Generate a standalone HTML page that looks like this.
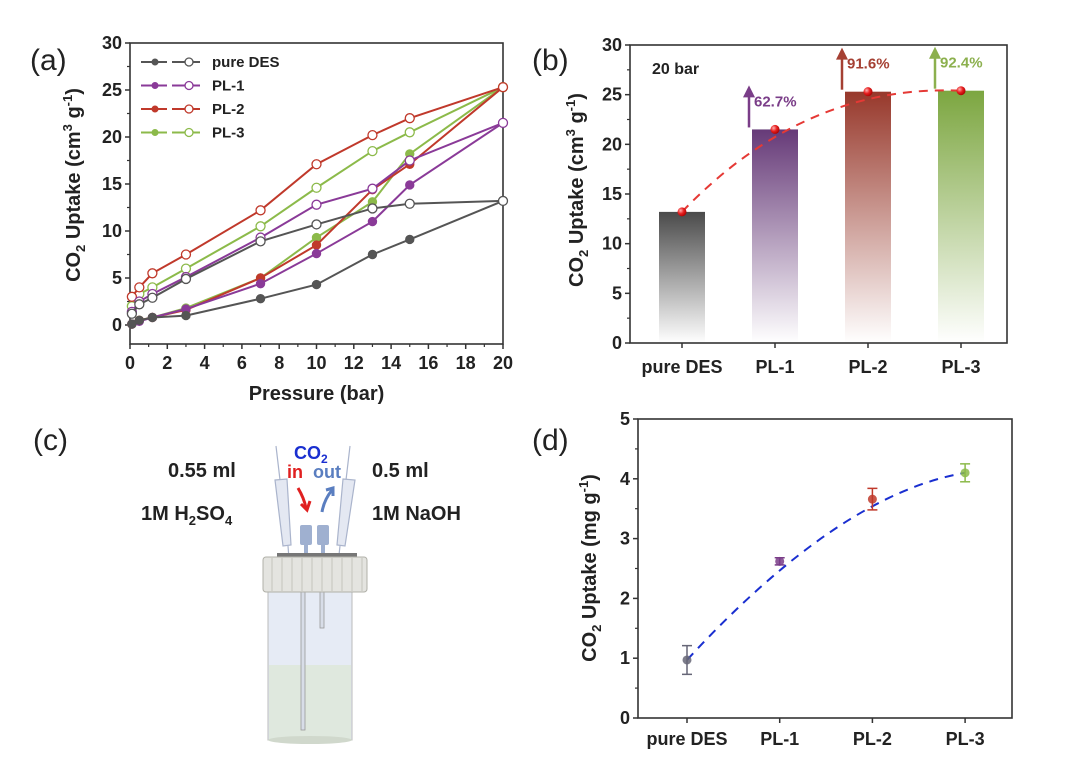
<!DOCTYPE html>
<html><head><meta charset="utf-8">
<style>
html,body{margin:0;padding:0;background:#fff;}
svg{display:block;font-family:"Liberation Sans",Arial,sans-serif;}
.tk{font-size:18px;font-weight:bold;fill:#222;}
.ttl{font-size:20px;font-weight:bold;fill:#222;}
.pl{font-size:30px;fill:#222;}
</style></head>
<body>
<svg id="fig" width="1080" height="763" viewBox="0 0 1080 763">
<defs>
<linearGradient id="g0" x1="0" y1="0" x2="0" y2="1"><stop offset="0" stop-color="#4a4a4a"/><stop offset="1" stop-color="#4a4a4a" stop-opacity="0"/></linearGradient>
<linearGradient id="g1" x1="0" y1="0" x2="0" y2="1"><stop offset="0" stop-color="#663a78"/><stop offset="1" stop-color="#663a78" stop-opacity="0"/></linearGradient>
<linearGradient id="g2" x1="0" y1="0" x2="0" y2="1"><stop offset="0" stop-color="#97382b"/><stop offset="1" stop-color="#97382b" stop-opacity="0"/></linearGradient>
<linearGradient id="g3" x1="0" y1="0" x2="0" y2="1"><stop offset="0" stop-color="#7ca640"/><stop offset="1" stop-color="#7ca640" stop-opacity="0"/></linearGradient>
<radialGradient id="rb" cx="0.35" cy="0.35" r="0.7"><stop offset="0" stop-color="#ffb0b0"/><stop offset="0.5" stop-color="#e82020"/><stop offset="1" stop-color="#a00"/></radialGradient>
</defs>
<text class="pl" x="30" y="70">(a)</text>
<text class="pl" x="532" y="70">(b)</text>
<text class="pl" x="33" y="450">(c)</text>
<text class="pl" x="532" y="450">(d)</text>
<g id="pa"></g>
<g id="pb"></g>
<g id="pd"></g>
<g id="pc">
  <text x="168" y="477" class="ttl">0.55 ml</text>
  <text x="141" y="520" class="ttl">1M H<tspan font-size="13" dy="5">2</tspan><tspan dy="-5">SO</tspan><tspan font-size="13" dy="5">4</tspan></text>
  <text x="372" y="477" class="ttl">0.5 ml</text>
  <text x="372" y="520" class="ttl">1M NaOH</text>
  <text x="294" y="459" font-size="18" font-weight="bold" fill="#1a2fd0">CO<tspan font-size="12" dy="4">2</tspan></text>
  <text x="287" y="478" font-size="18" font-weight="bold" fill="#e02020">in</text>
  <text x="313" y="478" font-size="18" font-weight="bold" fill="#5a7ec0">out</text>
  <path d="M298,488 Q304,498 306,508" stroke="#e02020" stroke-width="3" fill="none"/>
  <path d="M301,504 L307,510 L310,501" stroke="#e02020" stroke-width="3" fill="none"/>
  <path d="M322,512 Q324,500 332,490" stroke="#5a7ec0" stroke-width="3" fill="none"/>
  <path d="M326,490 L333,488 L333,496" stroke="#5a7ec0" stroke-width="3" fill="none"/>
  <g stroke="#aab4cc" fill="#e4e8f2" stroke-width="1.2">
    <line x1="276" y1="446" x2="280" y2="480"/>
    <polygon points="275,480 287,479 291,545 283,546"/>
    <line x1="288" y1="546" x2="291" y2="585"/>
  </g>
  <g stroke="#aab4cc" fill="#e4e8f2" stroke-width="1.2">
    <line x1="350" y1="446" x2="346" y2="480"/>
    <polygon points="343,479 355,480 345,546 337,545"/>
    <line x1="340" y1="546" x2="335" y2="590"/>
  </g>
  <rect x="300" y="525" width="12" height="20" rx="2" fill="#9fb0d0"/>
  <rect x="317" y="525" width="12" height="20" rx="2" fill="#9fb0d0"/>
  <rect x="304" y="545" width="4" height="12" fill="#9fb0d0"/><rect x="321" y="545" width="4" height="12" fill="#9fb0d0"/>
  <rect x="277" y="553" width="80" height="6" fill="#777"/>
  <rect x="268" y="590" width="84" height="150" fill="#e6ebf5" stroke="#bbb"/>
  <rect x="269" y="665" width="82" height="74" fill="#dfe8de"/>
  <ellipse cx="310" cy="740" rx="42" ry="4" fill="#d0d8cc"/>
  <rect x="301" y="590" width="4" height="140" fill="#d8dde8" stroke="#999" stroke-width="0.8"/>
  <rect x="320" y="590" width="4" height="38" fill="#d8dde8" stroke="#999" stroke-width="0.8"/>
  <rect x="263" y="557" width="104" height="35" rx="3" fill="#e4e4e0" stroke="#b0b0a8"/>
  <g stroke="#c4c4bc" stroke-width="1">
    <line x1="272" y1="558" x2="272" y2="591"/><line x1="282" y1="558" x2="282" y2="591"/><line x1="292" y1="558" x2="292" y2="591"/><line x1="302" y1="558" x2="302" y2="591"/><line x1="312" y1="558" x2="312" y2="591"/><line x1="322" y1="558" x2="322" y2="591"/><line x1="332" y1="558" x2="332" y2="591"/><line x1="342" y1="558" x2="342" y2="591"/><line x1="352" y1="558" x2="352" y2="591"/><line x1="362" y1="558" x2="362" y2="591"/>
  </g>
</g>
</svg>
<script>
// ---------- Panel (a) data ----------
const aPressAds = [0.1, 0.5, 1.2, 3, 7, 10, 13, 15, 20];
const aPressDes = [20, 15, 13, 10, 7, 3, 1.2, 0.5, 0.1];
const aNames = ["pure DES", "PL-1", "PL-2", "PL-3"];
const aColors = ["#555555", "#8a3a98", "#c0392b", "#8cba4a"];
const adsDES = [0.1, 0.5, 0.8, 1.0, 2.8, 4.3, 7.5, 9.1, 13.2];
const desDES = [13.2, 12.9, 12.4, 10.7, 8.9, 4.9, 2.9, 2.2, 1.2];
const adsPL1 = [0.1, 0.4, 0.8, 1.7, 4.4, 7.6, 11.0, 14.9, 21.5];
const desPL1 = [21.5, 17.5, 14.5, 12.8, 9.3, 5.1, 3.3, 2.5, 1.4];
const adsPL2 = [0.1, 0.5, 0.8, 1.6, 5.0, 8.5, 14.4, 17.1, 25.3];
const desPL2 = [25.3, 22.0, 20.2, 17.1, 12.2, 7.5, 5.5, 4.0, 3.0];
const adsPL3 = [0.1, 0.5, 0.8, 1.8, 5.0, 9.3, 13.1, 18.2, 25.3];
const desPL3 = [25.3, 20.5, 18.5, 14.6, 10.5, 6.0, 4.0, 3.3, 2.0];
const aXTicks = [0,2,4,6,8,10,12,14,16,18,20];
const aYTicks = [0,5,10,15,20,25,30];
// ---------- Panel (b) data ----------
const bCats = ["pure DES","PL-1","PL-2","PL-3"];
const bValues = [13.2, 21.5, 25.3, 25.4];
const bLabels = ["", "62.7%", "91.6%", "92.4%"];
const bYTicks = [0,5,10,15,20,25,30];
// ---------- Panel (d) data ----------
const dCats = ["pure DES","PL-1","PL-2","PL-3"];
const dValues = [0.97, 2.62, 3.66, 4.10];
const dErrors = [0.24, 0.06, 0.18, 0.15];
const dYTicks = [0,1,2,3,4,5];

const NS = "http://www.w3.org/2000/svg";
function mk(parent, tag, attrs, text){
  const e = document.createElementNS(NS, tag);
  for (const k in attrs) e.setAttribute(k, attrs[k]);
  if (text !== undefined) e.textContent = text;
  parent.appendChild(e);
  return e;
}
function yTitle(g, x, y, unitHTML){
  const t = mk(g, "text", {x:x, y:y, class:"ttl", transform:"rotate(-90 "+x+" "+y+")", "text-anchor":"middle"});
  
  
  t.innerHTML = unitHTML;
}

// ================= Panel A =================
(function(){
  const g = document.getElementById("pa");
  const L=130,R=503,T=43,B=344;
  const xS = v => L + (v-0)/(20-0)*(R-L);
  const yS = v => 325 - v*(325-T)/30;
  const box = mk(g,"rect",{x:L,y:T,width:R-L,height:B-T,fill:"none",stroke:"#333","stroke-width":1.6});
  
  
  aXTicks.forEach(v=>{
    mk(g,"line",{x1:xS(v),x2:xS(v),y1:B,y2:B+5,stroke:"#333","stroke-width":1.5});
    if(v<20) mk(g,"line",{x1:xS(v+1),x2:xS(v+1),y1:B,y2:B+3,stroke:"#333","stroke-width":1.2});
    const t = mk(g,"text",{x:xS(v),y:369,class:"tk","text-anchor":"middle"},v);
    
    
  });
  aYTicks.forEach(v=>{
    mk(g,"line",{x1:L-5,x2:L,y1:yS(v),y2:yS(v),stroke:"#333","stroke-width":1.5});
    if(v<30) mk(g,"line",{x1:L-3,x2:L,y1:yS(v+2.5),y2:yS(v+2.5),stroke:"#333","stroke-width":1.2});
    const t = mk(g,"text",{x:L-8,y:yS(v)+6,class:"tk","text-anchor":"end"},v);
    
    
  });
  const xt = mk(g,"text",{x:(L+R)/2,y:400,class:"ttl","text-anchor":"middle"},"Pressure (bar)");
  
  
  yTitle(g, 80, 185, 'CO<tspan font-size="13" dy="5">2</tspan><tspan dy="-5"> Uptake (cm</tspan><tspan font-size="13" dy="-8">3</tspan><tspan dy="8"> g</tspan><tspan font-size="13" dy="-8">-1</tspan><tspan dy="8">)</tspan>');
  const ads = [adsDES, adsPL1, adsPL2, adsPL3];
  const des = [desDES, desPL1, desPL2, desPL3];
  for(let s=3;s>=0;s--){
    const c = aColors[s];
    const pts1 = aPressAds.map((p,i)=>xS(p)+","+yS(ads[s][i])).join(" ");
    const pts2 = aPressDes.map((p,i)=>xS(p)+","+yS(des[s][i])).join(" ");
    const l1 = mk(g,"polyline",{points:pts1,fill:"none",stroke:c,"stroke-width":2});
    
    
    const l2 = mk(g,"polyline",{points:pts2,fill:"none",stroke:c,"stroke-width":2});
    
    
    aPressAds.forEach((p,i)=>{
      const m = mk(g,"circle",{cx:xS(p),cy:yS(ads[s][i]),r:4.2,fill:c,stroke:c,"stroke-width":1});
      
      
    });
    aPressDes.forEach((p,i)=>{
      const m = mk(g,"circle",{cx:xS(p),cy:yS(des[s][i]),r:4.5,fill:"#fff",stroke:c,"stroke-width":1.3});
      
      
    });
  }
  aNames.forEach((n,i)=>{
    const y = 62 + i*23.5;
    const c = aColors[i];
    const lg = mk(g,"g",{});
    
    
    mk(lg,"line",{x1:141,x2:167,y1:y,y2:y,stroke:c,"stroke-width":2});
    mk(lg,"line",{x1:172,x2:200,y1:y,y2:y,stroke:c,"stroke-width":2});
    mk(lg,"circle",{cx:155,cy:y,r:3.5,fill:c});
    mk(lg,"circle",{cx:189,cy:y,r:4,fill:"#fff",stroke:c,"stroke-width":1.3});
    mk(lg,"text",{x:212,y:y+5,"font-size":15,"font-weight":"bold",fill:"#222"},n);
  });
})();

// ================= Panel B =================
(function(){
  const g = document.getElementById("pb");
  const L=630,R=1007,T=45,B=343;
  const xS = i => 682 + i*93;
  const yS = v => B - v*(B-T)/30;
  bCats.forEach((c,i)=>{
    const r = mk(g,"rect",{x:xS(i)-23,y:yS(bValues[i]),width:46,height:B-yS(bValues[i]),fill:"url(#g"+i+")"});
    
    
  });
  const box = mk(g,"rect",{x:L,y:T,width:R-L,height:B-T,fill:"none",stroke:"#333","stroke-width":1.6});
  
  
  bYTicks.forEach(v=>{
    mk(g,"line",{x1:L-5,x2:L,y1:yS(v),y2:yS(v),stroke:"#333","stroke-width":1.5});
    if(v<30) mk(g,"line",{x1:L-3,x2:L,y1:yS(v+2.5),y2:yS(v+2.5),stroke:"#333","stroke-width":1.2});
    const t = mk(g,"text",{x:L-8,y:yS(v)+6,class:"tk","text-anchor":"end"},v);
    
    
  });
  bCats.forEach((c,i)=>{
    mk(g,"line",{x1:xS(i),x2:xS(i),y1:B,y2:B+5,stroke:"#333","stroke-width":1.5});
    const t = mk(g,"text",{x:xS(i),y:373,class:"tk","text-anchor":"middle"},c);
    
    
  });
  yTitle(g, 583, 190, 'CO<tspan font-size="13" dy="5">2</tspan><tspan dy="-5"> Uptake (cm</tspan><tspan font-size="13" dy="-8">3</tspan><tspan dy="8"> g</tspan><tspan font-size="13" dy="-8">-1</tspan><tspan dy="8">)</tspan>');
  const lbl = mk(g,"text",{x:652,y:74,"font-size":16,"font-weight":"bold",fill:"#222"},"20 bar");
  
  
  // trend dashed
  let d = "";
  bValues.forEach((v,i)=>{ d += (i?" L":"M")+xS(i)+","+yS(v); });
  const tr = mk(g,"path",{d:"M"+xS(0)+","+yS(bValues[0])+" Q"+(xS(1)+30)+","+(yS(bValues[2])-8)+" "+xS(3)+","+yS(bValues[3]),fill:"none",stroke:"#e53935","stroke-width":2,"stroke-dasharray":"9,7"});
  
  
  bValues.forEach((v,i)=>{
    const m = mk(g,"circle",{cx:xS(i),cy:yS(v),r:4.5,fill:"url(#rb)"});
    
    
  });
  const acol = ["", "#7a3d88", "#a54033", "#8cb04e"];
  bLabels.forEach((s,i)=>{
    if(!s) return;
    const top = yS(bValues[i]) - 42;
    const ax = xS(i) - 26;
    const ar = mk(g,"g",{});
    
    
    mk(ar,"line",{x1:ax,x2:ax,y1:yS(bValues[i])-2,y2:top+8,stroke:acol[i],"stroke-width":2.5});
    mk(ar,"polygon",{points:(ax-6)+","+(top+10)+" "+(ax+6)+","+(top+10)+" "+ax+","+(top-2),fill:acol[i]});
    const t = mk(g,"text",{x:ax+5,y:top+19,"font-size":15,"font-weight":"bold",fill:acol[i]},s);
    
    
  });
})();

// ================= Panel D =================
(function(){
  const g = document.getElementById("pd");
  const L=638,R=1012,T=419,B=718;
  const xS = i => 687 + i*92.7;
  const yS = v => B - v*(B-T)/5;
  const box = mk(g,"rect",{x:L,y:T,width:R-L,height:B-T,fill:"none",stroke:"#333","stroke-width":1.6});
  
  
  dYTicks.forEach(v=>{
    mk(g,"line",{x1:L-5,x2:L,y1:yS(v),y2:yS(v),stroke:"#333","stroke-width":1.5});
    if(v<5) mk(g,"line",{x1:L-3,x2:L,y1:yS(v+0.5),y2:yS(v+0.5),stroke:"#333","stroke-width":1.2});
    const t = mk(g,"text",{x:L-8,y:yS(v)+6,class:"tk","text-anchor":"end"},v);
    
    
  });
  dCats.forEach((c,i)=>{
    mk(g,"line",{x1:xS(i),x2:xS(i),y1:B,y2:B+5,stroke:"#333","stroke-width":1.5});
    const t = mk(g,"text",{x:xS(i),y:745,class:"tk","text-anchor":"middle"},c);
    
    
  });
  yTitle(g, 596, 568, 'CO<tspan font-size="13" dy="5">2</tspan><tspan dy="-5"> Uptake (mg g</tspan><tspan font-size="13" dy="-8">-1</tspan><tspan dy="8">)</tspan>');
  const tr = mk(g,"path",{d:"M"+xS(0)+","+yS(dValues[0])+" Q"+(xS(1)+60)+","+(yS(dValues[2])-5)+" "+xS(3)+","+yS(dValues[3]),fill:"none",stroke:"#1a2fd0","stroke-width":2,"stroke-dasharray":"9,7"});
  
  
  const cols = ["#666677","#7a3d88","#c0392b","#8cba4a"];
  dValues.forEach((v,i)=>{
    const eg = mk(g,"g",{stroke:cols[i],"stroke-width":1.5});
    
    
    mk(eg,"line",{x1:xS(i),x2:xS(i),y1:yS(v-dErrors[i]),y2:yS(v+dErrors[i])});
    mk(eg,"line",{x1:xS(i)-5,x2:xS(i)+5,y1:yS(v-dErrors[i]),y2:yS(v-dErrors[i])});
    mk(eg,"line",{x1:xS(i)-5,x2:xS(i)+5,y1:yS(v+dErrors[i]),y2:yS(v+dErrors[i])});
    const m = mk(g,"circle",{cx:xS(i),cy:yS(v),r:4.5,fill:cols[i],opacity:0.85});
    
    
  });
})();
</script>
</body></html>
